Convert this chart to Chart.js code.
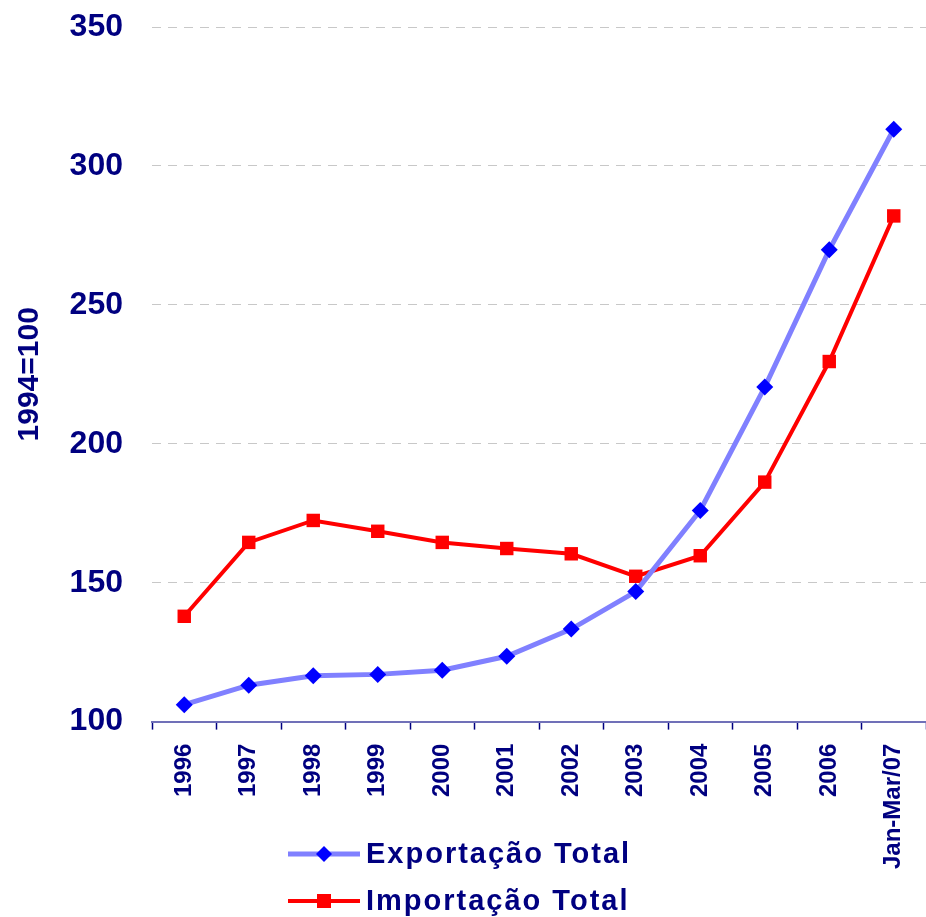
<!DOCTYPE html>
<html>
<head>
<meta charset="utf-8">
<script src="https://cdn.jsdelivr.net/npm/chart.js@4/dist/chart.umd.min.js"></script>
<style>
  html, body { margin: 0; padding: 0; background: #fff; }
  #wrap { position: relative; width: 926px; height: 917px; }
  #chart { position: absolute; left: 0; top: 0; }
  .legend { position: absolute; left: 288px; top: 830px; font-family: "Liberation Sans", Arial, sans-serif; }
  .legend-item { display: flex; align-items: center; height: 47px; }
  .legend-item span { color: #000080; font-weight: bold; font-size: 29px; letter-spacing: 2px; margin-left: 6px; }
</style>
</head>
<body>
<div id="wrap">
  <canvas id="chart" width="926" height="917"></canvas>
  <div class="legend" id="legend"></div>
</div>
<script>
// Chart data
const categories = ["1996", "1997", "1998", "1999", "2000", "2001", "2002", "2003", "2004", "2005", "2006", "Jan-Mar/07"];
const exportacao = [106.1, 113.1, 116.5, 117, 118.5, 123.5, 133.3, 146.8, 176, 220.4, 269.8, 313.2];
const importacao = [137.9, 164.5, 172.4, 168.5, 164.5, 162.3, 160.4, 152.3, 159.7, 186.2, 229.6, 282];
const yTicks = [100, 150, 200, 250, 300, 350];

const navy = "#000080";
const fontFamily = '"Liberation Sans", Arial, sans-serif';

const series = [
  { label: "Exportação Total", data: exportacao, line: "#8080ff", lineWidth: 5, marker: "#0000ff", shape: "rectRot", radius: 8.5 },
  { label: "Importação Total", data: importacao, line: "#ff0000", lineWidth: 4, marker: "#ff0000", shape: "rect", radius: 9.5 }
];

// Build the HTML legend (line sample + marker, then label)
function buildLegend() {
  const legend = document.getElementById("legend");
  series.forEach((s) => {
    const item = document.createElement("div");
    item.className = "legend-item";
    let markerSvg;
    if (s.shape === "rectRot") {
      markerSvg = `<polygon points="36,4 44,12 36,20 28,12" fill="${s.marker}"/>`;
    } else {
      markerSvg = `<rect x="29" y="5" width="14" height="14" fill="${s.marker}"/>`;
    }
    item.innerHTML =
      `<svg width="72" height="24"><line x1="0" y1="12" x2="72" y2="12" stroke="${s.line}" stroke-width="${s.lineWidth}"/>${markerSvg}</svg>` +
      `<span>${s.label}</span>`;
    legend.appendChild(item);
  });
}

document.addEventListener("DOMContentLoaded", function () {
  buildLegend();

  const ctx = document.getElementById("chart");
  new Chart(ctx, {
    type: "line",
    data: {
      labels: categories,
      datasets: series.map((s) => ({
        label: s.label,
        data: s.data,
        borderColor: s.line,
        borderWidth: s.lineWidth,
        backgroundColor: s.marker,
        pointBackgroundColor: s.marker,
        pointBorderColor: s.marker,
        pointBorderWidth: 0,
        pointStyle: s.shape,
        pointRadius: s.radius,
        tension: 0,
        fill: false,
        clip: false,
      })),
    },
    options: {
      responsive: false,
      animation: false,
      layout: {
        autoPadding: false,
        padding: { top: 0, right: 0, bottom: 34, left: 0 },
      },
      plugins: {
        legend: { display: false },
        tooltip: { enabled: false },
      },
      scales: {
        x: {
          offset: true,
          afterFit: (axis) => {
            // let the plot run to the right edge like the original
            axis.paddingLeft = 0;
            axis.paddingRight = 0;
          },
          grid: {
            offset: true,
            drawOnChartArea: false,
            drawTicks: true,
            tickLength: 8,
            tickColor: navy,
            tickWidth: 1.5,
          },
          border: { display: true, color: "#7070b8", width: 2 },
          ticks: {
            color: navy,
            font: { family: fontFamily, size: 24, weight: "bold" },
            minRotation: 90,
            maxRotation: 90,
            padding: 14,
            autoSkip: false,
          },
        },
        y: {
          min: yTicks[0],
          max: yTicks[yTicks.length - 1],
          afterBuildTicks: (axis) => {
            axis.ticks = yTicks.map((v) => ({ value: v }));
          },
          afterFit: (axis) => {
            axis.width = 152;
            axis.paddingTop = 27;
          },
          grid: {
            color: (c) => (c.tick && c.tick.value === yTicks[0] ? "rgba(0,0,0,0)" : "#c8c8c8"),
            drawTicks: false,
            lineWidth: 1,
          },
          border: { display: false, dash: [9, 7] },
          ticks: {
            color: navy,
            font: { family: fontFamily, size: 32, weight: "bold" },
            padding: 29,
          },
          title: {
            display: true,
            text: "1994=100",
            color: navy,
            font: { family: fontFamily, size: 30, weight: "bold" },
            padding: { top: 12, bottom: 0 },
          },
        },
      },
    },
  });
});
</script>
</body>
</html>
